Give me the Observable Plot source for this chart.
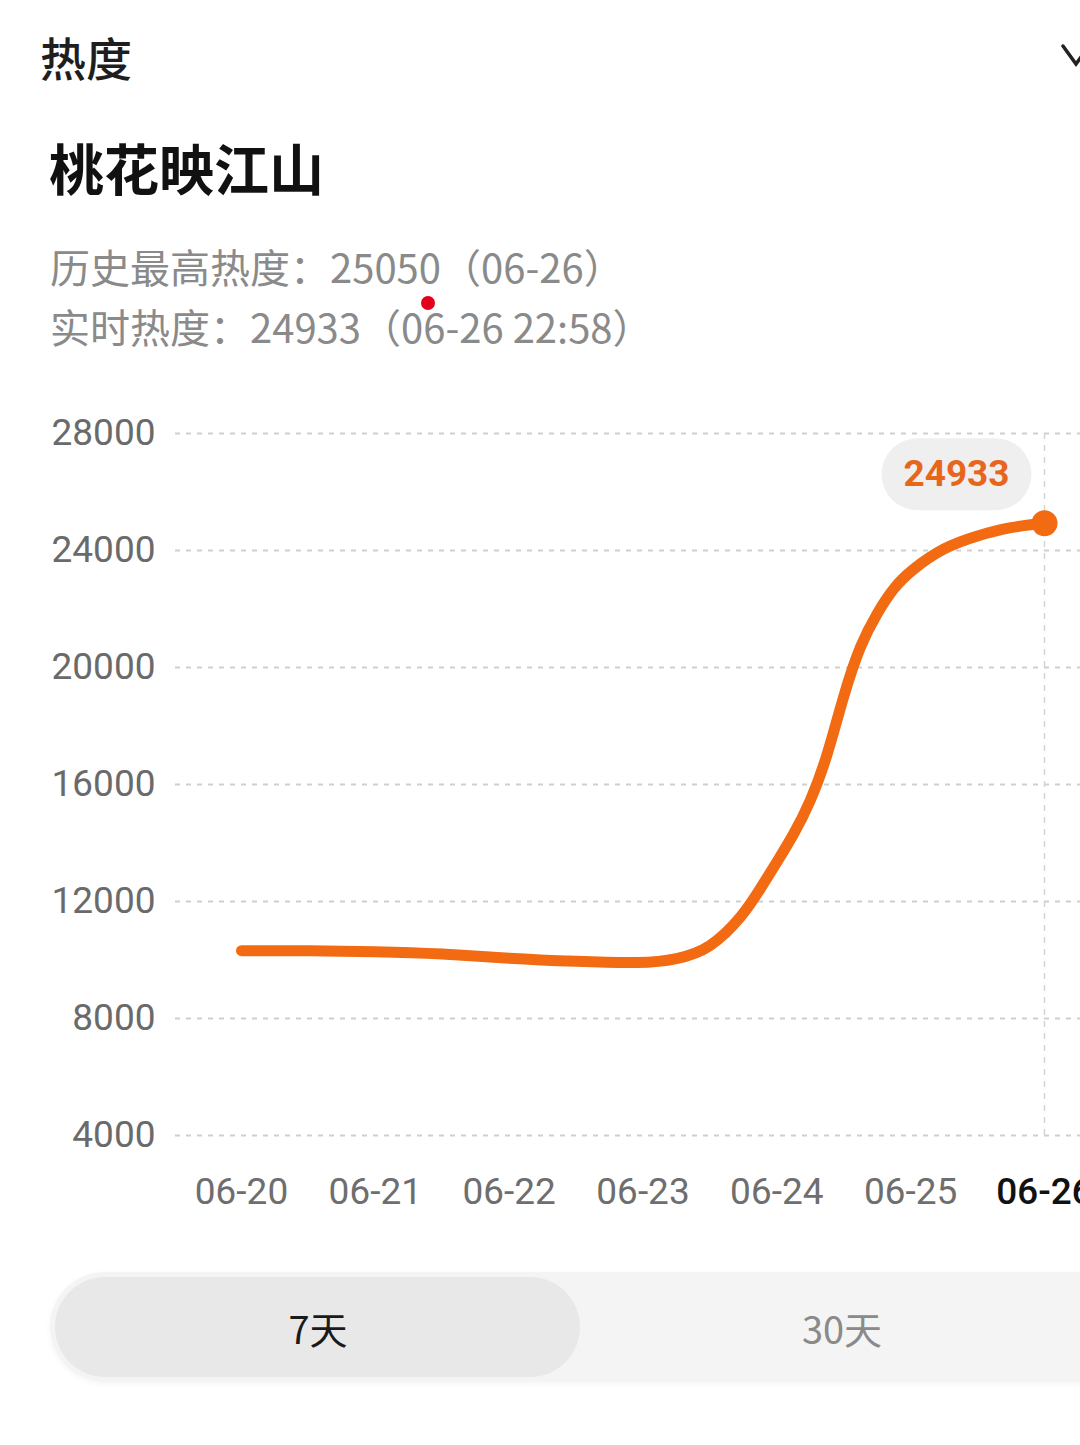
<!DOCTYPE html>
<html>
<head>
<meta charset="utf-8">
<script src="https://cdn.jsdelivr.net/npm/d3@7"></script>
<script src="https://cdn.jsdelivr.net/npm/@observablehq/plot@0.6"></script>
<style>
  html, body { margin: 0; padding: 0; background: #fff; }
  body { width: 1080px; height: 1445px; position: relative; overflow: hidden; font-family: "Noto Sans CJK SC", "Noto Sans", sans-serif; }
  .abs { position: absolute; white-space: nowrap; line-height: 1; }
  #header { left: 40px; top: 33px; font-size: 46px; color: #1e1e1e; font-weight: 500; }
  #title { left: 49px; top: 139px; font-size: 55px; color: #111; font-weight: 700; }
  #sub1 { left: 50px; top: 246px; font-size: 40px; color: #8a8a8a; }
  #sub2 { left: 50px; top: 306px; font-size: 40px; color: #8a8a8a; }
  #chart { position: absolute; left: 0; top: 400px; }
  #toggle { left: 50px; top: 1272px; width: 1100px; height: 110px; border-radius: 55px; background: #f4f4f4; box-shadow: 0 2px 6px rgba(0,0,0,0.04); }
  #sel { left: 55px; top: 1277px; width: 525px; height: 100px; border-radius: 50px; background: #e8e8e8; }
  .tg { font-size: 38px; top: 1309px; transform: translateX(-50%); }
</style>
</head>
<body>
<div class="abs" id="header">热度</div>
<svg class="abs" style="left:1050px;top:38px" width="30" height="34"><polyline points="13,8 26,26 39,8" fill="none" stroke="#222" stroke-width="3.5" stroke-linecap="round"/></svg>
<div class="abs" id="title">桃花映江山</div>
<div class="abs" id="sub1">历史最高热度：25050（06-26）</div>
<div class="abs" id="sub2">实时热度：24933（06-26 22:58）</div>
<svg class="abs" style="left:420px;top:295px" width="16" height="16"><circle cx="8" cy="8" r="7" fill="#e3001b"/></svg>
<div id="chart"></div>
<div class="abs" id="toggle"></div>
<div class="abs" id="sel"></div>
<div class="abs tg" style="left:318px;color:#1a1a1a">7天</div>
<div class="abs tg" style="left:842px;color:#8a8a8a">30天</div>
<script>
// ---- data ----
const dayLabels = ["06-20", "06-21", "06-22", "06-23", "06-24", "06-25", "06-26"];
const yTicks = [4000, 8000, 12000, 16000, 20000, 24000, 28000];
// time in days since 06-20
const times = [0, 0.5, 1, 1.5, 2, 2.5, 3, 3.25, 3.5, 3.75, 3.875, 4, 4.125, 4.25, 4.375, 4.5, 4.625, 4.75, 4.875, 5, 5.25, 5.5, 5.75, 6];
const heat  = [10320, 10320, 10290, 10220, 10050, 9950, 9880, 10016, 10358, 11520, 12426, 13346, 14276, 15390, 16915, 19083, 20803, 21873, 22745, 23316, 24120, 24513, 24807, 24933];
const currentLabel = "24933";

const series = times.map((t, i) => ({t, v: heat[i]}));
const last = series[series.length - 1];
const dayIdx = dayLabels.map((_, i) => i);

const orange = "#f26a12";

// pill-shaped symbol for the value bubble
const pill = {
  draw(ctx) {
    const hw = 75, hh = 36, r = 36;
    ctx.moveTo(-hw + r, -hh);
    ctx.lineTo(hw - r, -hh);
    ctx.arc(hw - r, 0, r, -Math.PI / 2, Math.PI / 2);
    ctx.lineTo(-hw + r, hh);
    ctx.arc(-hw + r, 0, r, Math.PI / 2, 3 * Math.PI / 2);
    ctx.closePath();
  }
};

const chart = Plot.plot({
  width: 1080,
  height: 830,
  marginTop: 33,
  marginBottom: 95,
  marginLeft: 175,
  marginRight: 0,
  style: {fontFamily: "Roboto, 'Noto Sans', sans-serif", background: "transparent", overflow: "visible"},
  x: {domain: [-0.493, 6.269], axis: null},
  y: {domain: [4000, 28000], axis: null},
  marks: [
    Plot.gridY(yTicks, {stroke: "#cfcfcf", strokeOpacity: 1, strokeWidth: 2, strokeDasharray: "5,6"}),
    Plot.ruleX([6], {stroke: "#d4d4d4", strokeWidth: 1.5, strokeDasharray: "6,6"}),
    Plot.axisY(yTicks, {anchor: "left", label: null, tickSize: 0, tickPadding: 20, fontSize: 37, fill: "#6a6a6a",
      tickFormat: d3.format("d")}),
    Plot.axisX(dayIdx.slice(0, 6), {anchor: "bottom", label: null, tickSize: 0, tickPadding: 42, fontSize: 37, fill: "#6e6e6e",
      tickFormat: (d) => dayLabels[d]}),
    Plot.axisX([6], {anchor: "bottom", label: null, tickSize: 0, tickPadding: 42, fontSize: 37, fill: "#111", fontWeight: 500,
      tickFormat: (d) => dayLabels[d]}),
    Plot.line(series, {x: "t", y: "v", stroke: orange, strokeWidth: 11, curve: "basis", strokeLinecap: "round", strokeLinejoin: "round"}),
    Plot.dot([last], {x: "t", y: "v", r: 13, fill: orange, stroke: null}),
    Plot.dot([last], {x: "t", y: "v", symbol: pill, r: 10, fill: "#efefef", stroke: null, dx: -88, dy: -49}),
    Plot.text([last], {x: "t", y: "v", text: () => currentLabel, dx: -88, dy: -49, fill: "#e8661c", fontSize: 37, fontWeight: 700, fontFamily: "Roboto"})
  ]
});
document.getElementById("chart").appendChild(chart);
</script>
</body>
</html>
